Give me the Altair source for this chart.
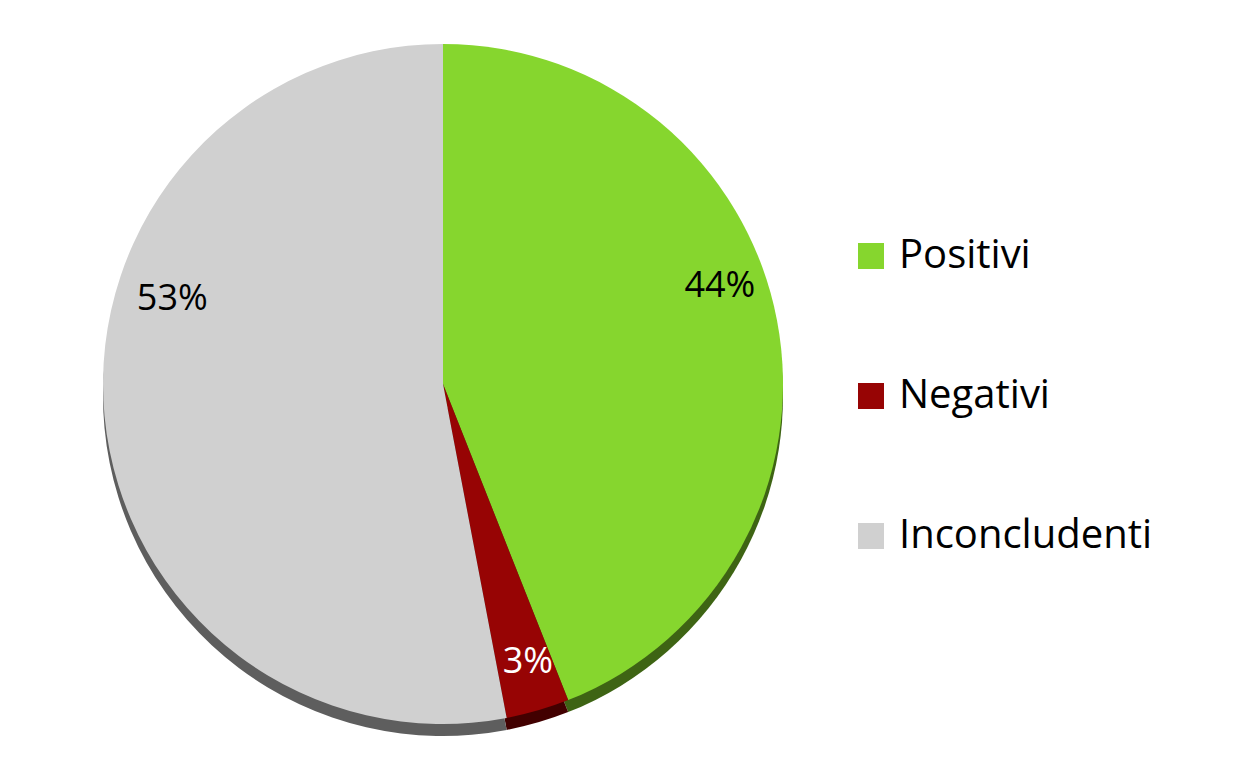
import altair as alt
import pandas as pd

categories = ["Positivi", "Negativi", "Inconcludenti"]
values = [44, 3, 53]
labels = ["44%", "3%", "53%"]
colors = ["#86D62E", "#970404", "#D0D0D0"]
edge_colors = ["#3E6414", "#420000", "#5E5E5E"]
label_colors = ["#000000", "#FFFFFF", "#000000"]

df = pd.DataFrame({
    "cat": categories,
    "val": values,
    "label": labels,
    "ord": list(range(len(categories))),
    "edge": edge_colors,
    "lc": label_colors,
})

CX, CY, R = 435, 376, 340
FONT = "Open Sans"

base = alt.Chart(df)
theta = alt.Theta("val:Q", stack=True)
order = alt.Order("ord:O")

shadow = base.mark_arc(outerRadius=R).encode(
    theta=theta, order=order,
    color=alt.Color("edge:N", scale=None),
    x=alt.value(CX), y=alt.value(CY + 12),
)

pie = base.mark_arc(outerRadius=R).encode(
    theta=theta, order=order,
    color=alt.Color(
        "cat:N",
        scale=alt.Scale(domain=categories, range=colors),
        sort=categories,
        legend=alt.Legend(
            title=None, orient="none", legendX=843, legendY=228,
            symbolType="square", symbolSize=676, symbolStrokeWidth=0,
            labelFontSize=40, labelFont=FONT, labelColor="#000000",
            labelOffset=8, rowPadding=100, padding=0, labelLimit=0,
        ),
    ),
    x=alt.value(CX), y=alt.value(CY),
)

offsets = {"Positivi": (-8, -44), "Negativi": (4, 0), "Inconcludenti": (18, -112)}
text_layers = []
for c in categories:
    dx, dy = offsets[c]
    t = base.transform_stack(
        stack="val", groupby=[], as_=["v0", "v1"], sort=[alt.SortField("ord")]
    ).transform_calculate(
        mid="(datum.v0 + datum.v1) / 2"
    ).transform_filter(
        alt.datum.cat == c
    ).mark_text(radius=290, fontSize=36, font=FONT, dx=dx, dy=dy).encode(
        theta=alt.Theta("mid:Q", scale=alt.Scale(domain=[0, 100])),
        text="label:N",
        color=alt.Color("lc:N", scale=None),
        x=alt.value(CX), y=alt.value(CY),
    )
    text_layers.append(t)

chart = alt.layer(shadow, pie, *text_layers).properties(
    width=1200, height=740, autosize=alt.AutoSizeParams(type="none"), padding=0,
).configure_view(stroke=None)

chart.save("out.html", embed_options={"renderer": "svg", "actions": False})
